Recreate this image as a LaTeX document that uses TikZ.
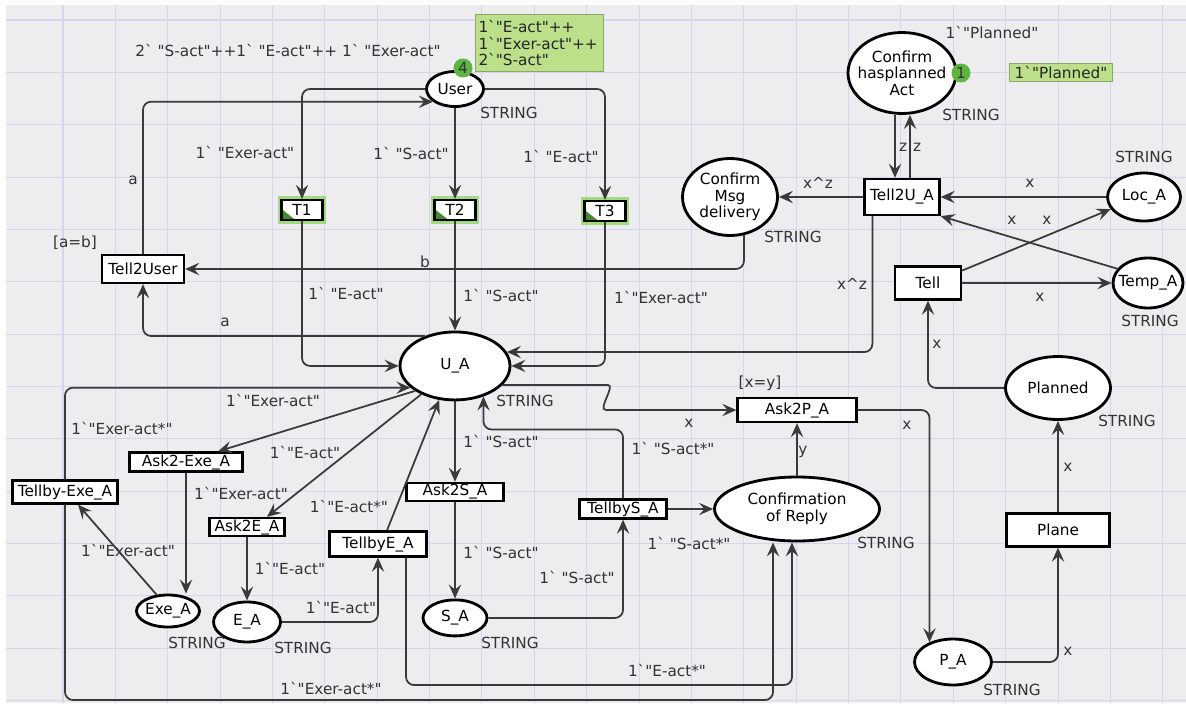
\documentclass[tikz,border=0pt]{standalone}
\usepackage{fontspec}
\setmainfont{DejaVu Sans}[Ligatures=TeXOff]
\usepackage{tikz}
\usetikzlibrary{shapes.geometric,arrows.meta,positioning,calc}

\definecolor{bggrey}{HTML}{EDEDF0}
\definecolor{gridblue}{HTML}{D6D4EE}
\definecolor{tokgreen}{HTML}{5CB640}
\definecolor{markgreen}{HTML}{BCDF8A}
\definecolor{arcgrey}{HTML}{3A3A3A}
\definecolor{glow}{HTML}{8ED663}

\begin{document}
\begin{tikzpicture}[x=0.02cm, y=-0.02cm, on grid,
        font=\fontsize{8.7}{9.4}\selectfont,
        place/.style = {ellipse, draw, line width=1.6pt, fill=white, inner sep=0pt, align=center},
        trans/.style = {rectangle, draw, line width=1.3pt, fill=white, inner xsep=1.5pt, inner ysep=0.8pt},
        enabled/.style = {trans, preaction={draw=glow, line width=4.5pt, opacity=0.8},
          path picture={\fill[tokgreen!75!black] (path picture bounding box.south west)
            -- ++(0.28cm,0cm) -- ++(-0.28cm,0.22cm) -- cycle;}},
        insc/.style = {text=black!80, inner sep=0pt},
        flow/.style = {draw=arcgrey, line width=1pt, rounded corners=0.16cm,
          -{Stealth[length=8pt, width=7pt, inset=3pt]}},
        tok/.style = {circle, fill=tokgreen, inner sep=0pt, minimum size=0.38cm, text=black!80},
        marking/.style = {fill=markgreen, draw=markgreen!75!black, line width=0.3pt, inner sep=0pt, text=black!85}]

        \useasboundingbox (0,0) rectangle (1186,713);
        \fill[bggrey] (6,5) rectangle (1186,703);
        \foreach \gx in {0,...,21}
          \draw[gridblue, line width=0.6pt] ({63+52.37*\gx},5) -- ({63+52.37*\gx},703);
        \foreach \gy in {0,...,13}
          \draw[gridblue, line width=0.6pt] (6,{20+52.35*\gy}) -- (1186,{20+52.35*\gy});

        \node[place, minimum width=1.14cm, minimum height=0.70cm] (user) at (455,89) {User};
        \node[enabled, minimum width=0.82cm, minimum height=0.4cm] (t1) at (302,210) {T1};
        \node[enabled, minimum width=0.82cm, minimum height=0.4cm, below=2.42cm of user] (t2) {T2};
        \node[enabled, minimum width=0.82cm, minimum height=0.4cm] (t3) at (605,211) {T3};
        \node[place, minimum width=2.2cm, minimum height=1.36cm, below=3.12cm of t2] (ua) {U\_A};
        \node[trans, minimum width=1.64cm, minimum height=0.56cm] (t2u) at (143,269) {Tell2User};

        \node[place, minimum width=1.9cm, minimum height=1.54cm] (cmd) at (730,197) {Confirm\\Msg\\delivery};
        \node[place, minimum width=2.16cm, minimum height=1.62cm, inner xsep=-5pt] (cha) at (902,73) {Confirm\\hasplanned\\Act};
        \node[trans, minimum width=1.5cm, minimum height=0.72cm, below=2.48cm of cha] (tu) {Tell2U\_A};
        \node[place, minimum width=1.46cm, minimum height=0.96cm] (loc) at (1144,197) {Loc\_A};
        \node[place, minimum width=1.4cm, minimum height=1.0cm, inner xsep=-4pt] (temp) at (1148,283) {Temp\_A};
        \node[trans, minimum width=1.32cm, minimum height=0.66cm] (tell) at (928,283) {Tell};
        \node[place, minimum width=2.1cm, minimum height=1.26cm] (planned) at (1058,388) {Planned};
        \node[trans, minimum width=2.06cm, minimum height=0.66cm, below=2.84cm of planned] (plane) {Plane};
        \node[place, minimum width=1.54cm, minimum height=0.92cm] (pa) at (953,662) {P\_A};

        \node[place, minimum width=3.3cm, minimum height=1.28cm] (cor) at (797,509) {Confirmation\\of Reply};
        \node[trans, minimum width=2.38cm, minimum height=0.48cm, above=1.98cm of cor] (a2p) {Ask2P\_A};
        \node[trans, minimum width=1.74cm, minimum height=0.38cm, left=3.48cm of cor] (tbs) {TellbyS\_A};
        \node[trans, minimum width=1.94cm, minimum height=0.36cm, below=2.52cm of ua] (a2s) {Ask2S\_A};
        \node[place, minimum width=1.28cm, minimum height=0.72cm, below=2.52cm of a2s] (sa) {S\_A};
        \node[trans, minimum width=1.94cm, minimum height=0.5cm] (tbe) at (378,544) {TellbyE\_A};
        \node[trans, minimum width=1.5cm, minimum height=0.36cm] (a2e) at (247,527) {Ask2E\_A};
        \node[place, minimum width=1.34cm, minimum height=0.8cm, below=1.9cm of a2e] (ea) {E\_A};
        \node[trans, minimum width=2.26cm, minimum height=0.38cm] (a2x) at (186,462) {Ask2-Exe\_A};
        \node[place, minimum width=1.26cm, minimum height=0.64cm, inner xsep=-1pt] (exe) at (168,611) {Exe\_A};
        \node[trans, minimum width=2.1cm, minimum height=0.46cm] (tbx) at (65,492) {Tellby-Exe\_A};

        \node[tok] (tok4) at (463,68) {4};
        \node[marking, text width=2.42cm, inner xsep=0.07cm, minimum height=1.14cm] (m4) at (539,43) {1`"E-act"++\\1`"Exer-act"++\\2`"S-act"};
        \node[insc] (im4) at (288,50) {2` "S-act"++1` "E-act"++ 1` "Exer-act"};
        \node[tok] (tok1) at (961,73) {1};
        \node[marking, minimum width=2.06cm, minimum height=0.36cm] (m1) at (1061,72) {1`"Planned"};
        \node[insc] (im1) at (992,32) {1`"Planned"};

        \node[insc] (s1) at (509,113) {STRING};
        \node[insc] (s2) at (525,401) {STRING};
        \node[insc] (s3) at (793,237) {STRING};
        \node[insc] (s4) at (971,115) {STRING};
        \node[insc] (s5) at (1144,157) {STRING};
        \node[insc] (s6) at (1150,321) {STRING};
        \node[insc] (s7) at (1127,421) {STRING};
        \node[insc] (s8) at (886,543) {STRING};
        \node[insc] (s9) at (1012,690) {STRING};
        \node[insc] (s10) at (510,643) {STRING};
        \node[insc] (s11) at (303,648) {STRING};
        \node[insc] (s12) at (197,643) {STRING};

        \node[insc] (g1) at (75,243) {[a=b]};
        \node[insc] (g2) at (760,383) {[x=y]};

        \node[insc] (e1) at (245,152) {1` "Exer-act"};
        \node[insc] (e2) at (411,153) {1` "S-act"};
        \node[insc] (e3) at (561,156) {1` "E-act"};
        \node[insc] (e4) at (133,180) {a};
        \node[insc] (e5) at (346,293) {1` "E-act"};
        \node[insc] (e6) at (501,295) {1` "S-act"};
        \node[insc] (e7) at (661,297) {1`"Exer-act"};
        \node[insc] (e8) at (425,262) {b};
        \node[insc] (e9) at (225,322) {a};
        \node[insc] (e10) at (852,284) {x\textasciicircum z};
        \node[insc] (e11) at (818,183) {x\textasciicircum z};
        \node[insc] (e12) at (1030,183) {x};
        \node[insc] (e13) at (1012,220) {x};
        \node[insc] (e14) at (1047,220) {x};
        \node[insc] (e15) at (1040,297) {x};
        \node[insc] (e16) at (937,344) {x};
        \node[insc] (e17) at (1068,467) {x};
        \node[insc] (e18) at (1068,651) {x};
        \node[insc] (e19) at (907,425) {x};
        \node[insc] (e20) at (689,423) {x};
        \node[insc] (e21) at (803,452) {y};
        \node[insc] (e22) at (903,147) {z};
        \node[insc] (e23) at (917,147) {z};
        \node[insc] (e24) at (273,400) {1`"Exer-act"};
        \node[insc] (e25) at (122,428) {1`"Exer-act*"};
        \node[insc] (e26) at (305,452) {1`"E-act"};
        \node[insc] (e27) at (349,506) {1`"E-act*"};
        \node[insc] (e28) at (241,493) {1`"Exer-act"};
        \node[insc] (e29) at (290,568) {1`"E-act"};
        \node[insc] (e30) at (128,550) {1`"Exer-act"};
        \node[insc] (e31) at (341,607) {1`"E-act"};
        \node[insc] (e32) at (331,688) {1`"Exer-act*"};
        \node[insc] (e33) at (667,670) {1`"E-act*"};
        \node[insc] (e34) at (501,441) {1` "S-act"};
        \node[insc] (e35) at (501,552) {1` "S-act"};
        \node[insc] (e36) at (577,577) {1` "S-act"};
        \node[insc] (e37) at (673,448) {1` "S-act*"};
        \node[insc] (e38) at (689,543) {1` "S-act*"};

        \coordinate (cb1) at (773,700);
        \coordinate (cb2) at (792,685);

        \draw[flow] (user.west) -| (t1.north);
        \draw[flow] (user) -- (t2);
        \draw[flow] (user.east) -| (t3.north);
        \draw[flow] (t2u.north) |- (user.210);
        \draw[flow] (t1.south) |- (ua.west);
        \draw[flow] (t2) -- (ua);
        \draw[flow] (t3.south) |- (ua.east);
        \draw[flow] ($(tu.south west)+(9,0)$) |- (ua.15);
        \draw[flow] (cmd.-70) |- (t2u.east);
        \draw[flow] (ua.135) -| (t2u.south);

        \draw[flow] (tbx.north) |- (ua.206);
        \draw[flow] (ua.212) -- ($(a2x.north)+(32,0)$);
        \draw[flow] (ua.220) -- ($(a2e.north)+(20,0)$);
        \draw[flow] ($(tbe.north)+(9,0)$) -- (ua.245);
        \draw[flow] (a2x.south) -- (a2x.south |- exe.north);
        \draw[flow] (a2e) -- (ea);
        \draw[flow] (exe.125) -- ($(tbx.south)+(13,0)$);
        \draw[flow] (ea.east) -| (tbe.south);
        \draw[flow] (tbx.south) |- (cb1) -- (cb1 |- cor.south);
        \draw[flow] ($(tbe.south)+(28,0)$) |- (cb2) -- (cb2 |- cor.south);

        \draw[flow] (ua) -- (a2s);
        \draw[flow] (a2s) -- (sa);
        \draw[flow] (sa.east) -| (tbs.south);
        \draw[flow] (tbs.north) |- ($(ua.-47)+(0,33)$) -- (ua.-47);
        \draw[flow] (tbs) -- (cor);
        \draw[flow] (cor) -- (a2p);
        \draw[flow] (ua.-22) -- (600,385) .. controls (616,385) and (597,410) .. (614,410) -- (a2p.west);

        \draw[flow] (a2p.east) -| (pa.140);
        \draw[flow] (pa.east) -| (plane.south);
        \draw[flow] (plane) -- (planned);
        \draw[flow] (planned.west) -| (tell.south);
        \draw[flow] (tell) -- (temp);
        \draw[flow] (tell.20) -- (loc.200);
        \draw[flow] (temp.155) -- (tu.south east);
        \draw[flow] (loc) -- (tu);
        \draw[flow] (tu) -- (cmd);
        \draw[flow] ($(cha.south)+(-7,0)$) -- ($(tu.north)+(-7,0)$);
        \draw[flow] ($(tu.north)+(8,0)$) -- ($(cha.south)+(8,0)$);
\end{tikzpicture}
\end{document}
